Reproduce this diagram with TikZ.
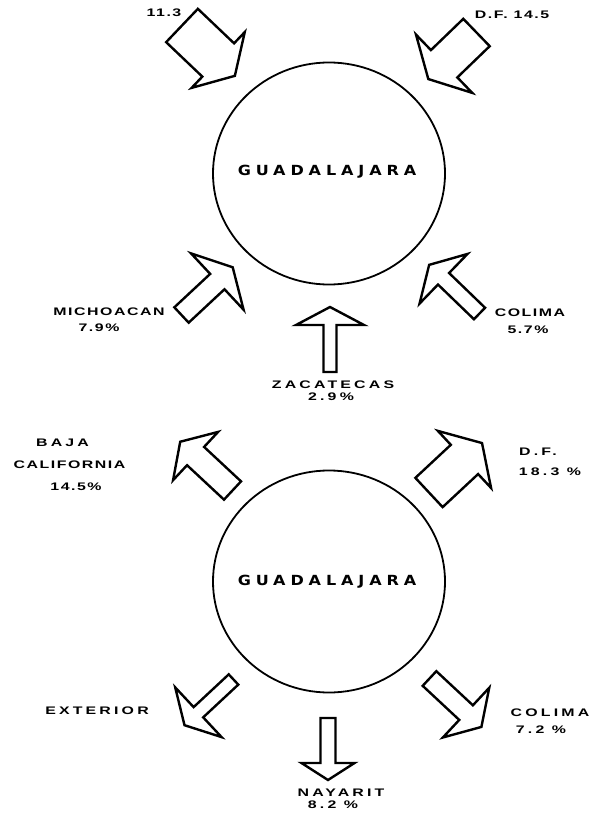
\documentclass[tikz,border=0pt]{standalone}
\usepackage{fontspec}
\setmainfont{Liberation Sans}
\newfontfamily\rotulo[FakeStretch=1.45,LetterSpace=14]{Liberation Sans}
\newfontfamily\rotuloancho[FakeStretch=1.45,LetterSpace=29]{Liberation Sans}
\newfontfamily\ciudad[FakeStretch=1.15,LetterSpace=35]{DejaVu Sans}
\usetikzlibrary{shapes.geometric}

% block arrow: back centre, angle, length, shaft width, head width, head length
\newcommand{\flecha}[6]{%
  \begin{scope}[shift={#1},rotate=#2]
    \draw[contorno] (0,-#4/2) -- (#3-#6,-#4/2) -- (#3-#6,-#5/2) -- (#3,0)
      -- (#3-#6,#5/2) -- (#3-#6,#4/2) -- (0,#4/2) -- cycle;
  \end{scope}}

\begin{document}
\begin{tikzpicture}[x=1bp,y=-1bp,
  contorno/.style={line width=2.4bp},
  ciudadnode/.style={draw,ellipse,line width=1.8bp,inner sep=0pt,minimum width=232bp,minimum height=222bp},
  ciudadtexto/.style={font=\ciudad\bfseries\fontsize{14}{16}\selectfont,inner sep=0pt},
  etiqueta/.style={font=\rotulo\bfseries\fontsize{11}{13}\selectfont,inner sep=0pt},
  ancha/.style={font=\rotuloancho\bfseries\fontsize{11}{13}\selectfont,inner sep=0pt}]
\useasboundingbox (0,0) rectangle (595,813);

% incoming
\node[ciudadnode] (gdl1) at (329,173.5) {};
\node[ciudadtexto] (gdl1t) at (327,172) {GUADALAJARA};
\flecha{(182,25.5)}{-43.6}{73}{46}{77}{23}
\flecha{(476.5,32.5)}{-136}{67}{38}{81}{22}
\flecha{(181.5,315)}{43}{70}{21}{77}{21}
\flecha{(479.5,313.5)}{136}{70}{16}{69}{20}
\flecha{(330,372)}{90}{65}{13}{68}{18}
\node[etiqueta] (jal) at (164,13) {11.3};
\node[etiqueta] (df1) at (512,15) {D.F. 14.5};
\node[etiqueta] (mich) at (109,312) {MICHOACAN};
\node[etiqueta] (mich2) at (99,328) {7.9\%};
\node[etiqueta] (col1) at (530,313) {COLIMA};
\node[etiqueta] (col12) at (528,330) {5.7\%};
\node[ancha] (zac) at (333,385) {ZACATECAS};
\node[ancha] (zac2) at (331,397) {2.9\%};

% outgoing
\node[ciudadnode] (gdl2) at (329,581.5) {};
\node[ciudadtexto] (gdl2t) at (327,582) {GUADALAJARA};
\flecha{(232.5,490.5)}{137}{71.5}{25}{66}{21}
\flecha{(429,492.5)}{43}{72.5}{40}{78}{24}
\flecha{(233.5,679.5)}{-137}{67}{14}{68}{19}
\flecha{(328,718)}{-90}{62}{15}{53}{17}
\flecha{(429.5,678.5)}{-43}{71}{20}{68}{21}
\node[ancha] (baja) at (62.5,443) {BAJA};
\node[etiqueta] (baja2) at (69.5,465) {CALIFORNIA};
\node[etiqueta] (baja3) at (76,487) {14.5\%};
\node[ancha] (df2) at (538,452) {D.F.};
\node[ancha] (df22) at (550,472) {18.3 \%};
\node[ancha] (ext) at (97,711) {EXTERIOR};
\node[ancha] (nay) at (341,793) {NAYARIT};
\node[ancha] (nay2) at (333,805) {8.2 \%};
\node[ancha] (col2) at (550,713) {COLIMA};
\node[ancha] (col22) at (541,730) {7.2 \%};
\end{tikzpicture}
\end{document}
